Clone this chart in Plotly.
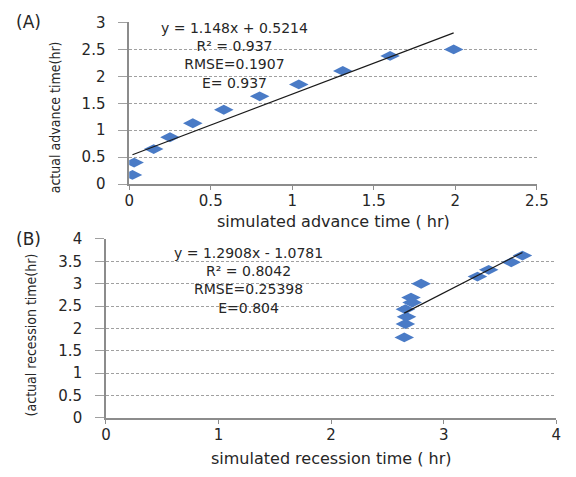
import plotly.graph_objects as go

# ---- data ----
a_sim = [0.02, 0.03, 0.15, 0.25, 0.39, 0.58, 0.80, 1.04, 1.31, 1.60, 1.99]
a_act = [0.17, 0.40, 0.65, 0.87, 1.13, 1.38, 1.63, 1.85, 2.10, 2.38, 2.50]
a_slope, a_int = 1.148, 0.5214
a_stats = ["y = 1.148x + 0.5214", "R² = 0.937", "RMSE=0.1907", "E= 0.937"]

b_sim = [2.65, 2.66, 2.67, 2.66, 2.72, 2.71, 2.80, 3.30, 3.40, 3.60, 3.70]
b_act = [1.80, 2.10, 2.26, 2.43, 2.58, 2.69, 3.00, 3.16, 3.31, 3.48, 3.63]
b_slope, b_int = 1.2908, -1.0781
b_stats = ["y = 1.2908x - 1.0781", "R² = 0.8042", "RMSE=0.25398", "E=0.804"]

W, H = 576, 477
BLUE = "#4a7bc6"
AX = "#8c8c8c"
GRID = "#a0a0a0"
TXT = "#262626"
FONT = "DejaVu Sans, Verdana, sans-serif"
NARROW = "Liberation Sans Narrow, DejaVu Sans Condensed, Arial Narrow, sans-serif"

def px(x):
    return x / W

def py(y):
    return 1 - y / H

fig = go.Figure()

for xs, ys, m, b, xa, ya in [(a_sim, a_act, a_slope, a_int, "x", "y"),
                             (b_sim, b_act, b_slope, b_int, "x2", "y2")]:
    fig.add_trace(go.Scatter(x=xs, y=ys, mode="markers", xaxis=xa, yaxis=ya,
                             marker=dict(symbol="diamond-wide", size=14, color=BLUE,
                                         line=dict(width=0))))
    x0, x1 = min(xs), max(xs)
    fig.add_trace(go.Scatter(x=[x0, x1], y=[m * x0 + b, m * x1 + b], mode="lines",
                             xaxis=xa, yaxis=ya,
                             line=dict(color="#1a1a1a", width=1.2)))

xcommon = dict(showline=True, linecolor=AX, linewidth=1.5, ticks="outside", ticklen=4,
               tickcolor=AX, showgrid=False, zeroline=False, ticklabelstandoff=-2,
               tickfont=dict(family=FONT, size=15, color=TXT))
ycommon = dict(showline=True, linecolor=AX, linewidth=1.5, ticks="outside", ticklen=9,
               tickcolor=GRID, showgrid=True, gridcolor=GRID, griddash="3px,2px",
               gridwidth=1, zeroline=False, dtick=0.5, ticklabelstandoff=10,
               tickfont=dict(family=FONT, size=15, color=TXT))

fig.update_layout(
    width=W, height=H, margin=dict(l=0, r=0, t=0, b=0),
    paper_bgcolor="white", plot_bgcolor="white", showlegend=False,
    xaxis=dict(domain=[px(128), px(548)], anchor="y", range=[0, 2.5], dtick=0.5, **xcommon),
    yaxis=dict(domain=[py(182), py(14)], anchor="x", range=[0, 3], **ycommon),
    xaxis2=dict(domain=[px(104), px(568)], anchor="y2", range=[0, 4], dtick=1, **xcommon),
    yaxis2=dict(domain=[py(425), py(239)], anchor="x2", range=[0, 4], **ycommon),
)

anns = []
def txt(x, y, s, size=15, family=FONT, angle=0):
    anns.append(dict(x=px(x), y=py(y), xref="paper", yref="paper", text=s,
                     showarrow=False, xanchor="center", yanchor="middle", align="center",
                     textangle=angle, font=dict(family=family, size=size, color=TXT)))

txt(236, 48, "<br>".join(a_stats), size=14)
txt(251, 282, "<br>".join(b_stats), size=14)

txt(338, 221, "simulated advance time ( hr)", size=16)
txt(336, 467, "simulated recession time ( hr)", size=16)
txt(51, 112, "actual advance time(hr)", size=14, family=NARROW, angle=-90)
txt(27, 339, "(actual recession time(hr)", size=14, family=NARROW, angle=-90)
txt(24, 13, "(A)", size=17)
txt(24, 239, "(B)", size=17)

fig.update_layout(annotations=anns)
fig.write_html("out.html", config={"displayModeBar": False},
               post_script="document.body.style.margin='0';document.body.style.padding='0';")
